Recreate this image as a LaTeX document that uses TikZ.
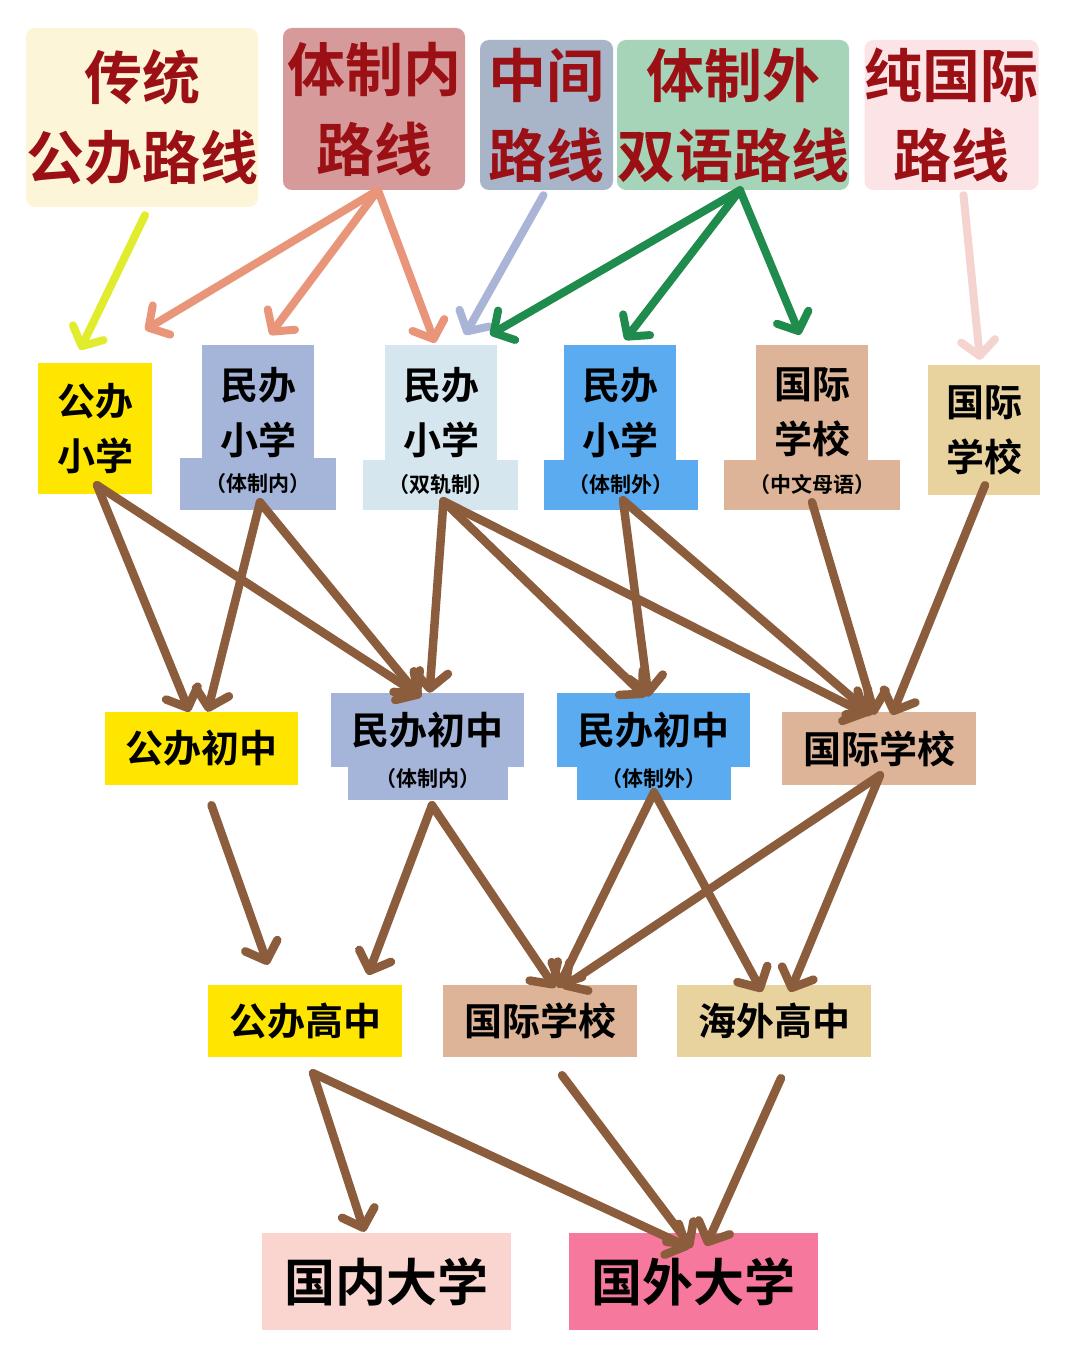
\documentclass[tikz,border=0pt]{standalone}
\usepackage{fontspec}
\newfontfamily\cjk{Noto Sans CJK SC}[BoldFont={Noto Sans CJK SC Bold}]
\usetikzlibrary{arrows.meta}
\definecolor{titlered}{RGB}{155,16,20}
\definecolor{tradbg}{RGB}{253,245,216}
\definecolor{innerbg}{RGB}{214,154,154}
\definecolor{midbg}{RGB}{168,180,200}
\definecolor{outerbg}{RGB}{166,212,184}
\definecolor{intlbg}{RGB}{252,228,230}
\definecolor{yelbg}{RGB}{255,230,0}
\definecolor{bluea}{RGB}{165,180,217}
\definecolor{bluel}{RGB}{213,230,238}
\definecolor{blueb}{RGB}{90,171,240}
\definecolor{tanbg}{RGB}{221,180,151}
\definecolor{khakibg}{RGB}{232,210,158}
\definecolor{homeuni}{RGB}{250,212,207}
\definecolor{awayuni}{RGB}{247,120,157}
\definecolor{yarrow}{RGB}{224,236,44}
\definecolor{sarrow}{RGB}{232,149,122}
\definecolor{garrow}{RGB}{169,180,214}
\definecolor{greenarrow}{RGB}{31,139,76}
\definecolor{parrow}{RGB}{245,211,207}
\definecolor{linkbrown}{RGB}{140,93,60}

\begin{document}
\begin{tikzpicture}[x=1pt, y=-1pt,
  route/.style={rounded corners=9pt, inner sep=0pt, align=center, text=titlered, font=\cjk\bfseries\fontsize{58}{80}\selectfont},
  school/.style={inner sep=0pt, align=center, font=\cjk\bfseries\fontsize{38}{55}\selectfont},
  note/.style={inner sep=0pt, align=center, font=\cjk\bfseries\fontsize{21}{25}\selectfont},
  uni/.style={inner sep=0pt, minimum width=249pt, minimum height=97pt, font=\cjk\bfseries\fontsize{51}{60}\selectfont},
  feed/.style={line width=8pt, line cap=round, -{Straight Barb[length=15pt,width=34pt,round]}},
  link/.style={draw=linkbrown, line width=8.5pt, line cap=round, -{Straight Barb[length=16pt,width=34pt,round]}}]
\fill[white] (0,0) rectangle (1080,1372);
\useasboundingbox (0,0) rectangle (1080,1372);

\node[route, fill=tradbg, minimum width=231pt, minimum height=179pt] (r1) at (142,117.5) {传统\\公办路线};
\node[route, fill=innerbg, minimum width=182pt, minimum height=162pt] (r2) at (374,109) {体制内\\路线};
\node[route, fill=midbg, minimum width=133pt, minimum height=150pt] (r3) at (546.5,115) {中间\\路线};
\node[route, fill=outerbg, minimum width=210pt, minimum height=150pt] (r4) at (733,115) {体制外\\双语路线};
\node[route, fill=intlbg, minimum width=171pt, minimum height=150pt] (r5) at (951.5,115) {纯国际\\路线};

\node[school, fill=yelbg, minimum width=114pt, minimum height=131pt] (p1) at (95,428.5) {公办\\小学};
\node[school, fill=bluea, minimum width=112pt, minimum height=135pt] (p2) at (258,412.5) {民办\\小学};
\node[note, fill=bluea, minimum width=156pt, minimum height=52pt] (p2n) at (258,484) {（体制内）};
\node[school, fill=bluel, minimum width=112pt, minimum height=135pt] (p3) at (441,412.5) {民办\\小学};
\node[note, fill=bluel, minimum width=155pt, minimum height=50pt] (p3n) at (440.5,485) {（双轨制）};
\node[school, fill=blueb, minimum width=112pt, minimum height=135pt] (p4) at (620,412.5) {民办\\小学};
\node[note, fill=blueb, minimum width=154pt, minimum height=50pt] (p4n) at (621,485) {（体制外）};
\node[school, fill=tanbg, minimum width=112pt, minimum height=135pt] (p5) at (812,412.5) {国际\\学校};
\node[note, fill=tanbg, minimum width=176pt, minimum height=50pt] (p5n) at (812,485) {（中文母语）};
\node[school, fill=khakibg, minimum width=112pt, minimum height=130pt] (p6) at (984,430) {国际\\学校};

\node[school, fill=yelbg, minimum width=193pt, minimum height=73pt] (m1) at (201.5,748.5) {公办初中};
\node[note, fill=bluea, minimum width=160pt, minimum height=42pt] (m2n) at (428,779) {（体制内）};
\node[school, fill=bluea, minimum width=193pt, minimum height=74pt] (m2) at (427.5,730) {民办初中};
\node[note, fill=blueb, minimum width=154pt, minimum height=42pt] (m3n) at (654,779) {（体制外）};
\node[school, fill=blueb, minimum width=193pt, minimum height=74pt] (m3) at (653.5,730) {民办初中};
\node[school, fill=tanbg, minimum width=194pt, minimum height=73pt] (m4) at (879,748.5) {国际学校};

\node[school, fill=yelbg, minimum width=194pt, minimum height=72pt] (h1) at (305,1021) {公办高中};
\node[school, fill=tanbg, minimum width=194pt, minimum height=72pt] (h2) at (540,1021) {国际学校};
\node[school, fill=khakibg, minimum width=194pt, minimum height=72pt] (h3) at (774,1021) {海外高中};

\node[uni, fill=homeuni] (u1) at (386.5,1281.5) {国内大学};
\node[uni, fill=awayuni] (u2) at (693,1281.5) {国外大学};

\draw[feed, draw=yarrow] ([xshift=3pt,yshift=-8pt]r1.south) -- ([xshift=-15pt,yshift=13pt]p1.north);
\draw[feed, draw=sarrow] ([xshift=4pt]r2.south) -- ([xshift=-7pt,yshift=33pt]p1.north east);
\draw[feed, draw=sarrow] ([xshift=4pt]r2.south) -- ([xshift=12pt,yshift=10pt]p2.north);
\draw[feed, draw=sarrow] ([xshift=4pt]r2.south) -- ([xshift=-6pt,yshift=2pt]p3.north);
\draw[feed, draw=garrow] ([xshift=-3pt,yshift=-5pt]r3.south) -- ([xshift=24pt,yshift=10pt]p3.north);
\draw[feed, draw=greenarrow] ([xshift=7pt]r4.south) -- ([xshift=-7pt,yshift=10pt]p3.north east);
\draw[feed, draw=greenarrow] ([xshift=7pt]r4.south) -- ([xshift=5pt,yshift=5pt]p4.north);
\draw[feed, draw=greenarrow] ([xshift=7pt]r4.south) -- ([xshift=-12pt,yshift=10pt]p5.north);
\draw[feed, draw=parrow] ([xshift=12pt,yshift=-5pt]r5.south) -- ([xshift=-4pt,yshift=5pt]p6.north);

\draw[link] ([xshift=2pt,yshift=9pt]p1.south) -- ([xshift=-12pt]m1.north);
\draw[link] ([xshift=2pt,yshift=9pt]p1.south) -- ([xshift=-6pt,yshift=-4pt]m2.north);
\draw[link] ([xshift=2pt,yshift=8pt]p2n.south) -- ([xshift=6pt]m1.north);
\draw[link] ([xshift=2pt,yshift=8pt]p2n.south) -- ([xshift=-8pt,yshift=-4pt]m2.north);
\draw[link] ([xshift=3pt,yshift=9pt]p3n.south) -- ([xshift=2pt]m2.north);
\draw[link] ([xshift=3pt,yshift=9pt]p3n.south) -- ([xshift=-8pt,yshift=-4pt]m3.north);
\draw[link] ([xshift=3pt,yshift=9pt]p3n.south) -- ([xshift=-11pt,yshift=-3pt]m4.north);
\draw[link] ([xshift=2pt,yshift=10pt]p4n.south) -- ([xshift=-5pt,yshift=-4pt]m3.north);
\draw[link] ([xshift=2pt,yshift=10pt]p4n.south) -- ([xshift=-7pt,yshift=-3pt]m4.north);
\draw[link] ([yshift=8pt]p5n.south) -- ([xshift=-4pt,yshift=-3pt]m4.north);
\draw[link] ([xshift=1pt,yshift=10pt]p6.south) -- ([xshift=13pt,yshift=-3pt]m4.north);

\draw[link] ([xshift=10pt,yshift=-20pt]m1.south) -- ([xshift=-37pt,yshift=20pt]h1.north);
\draw[link] ([xshift=4pt,yshift=-5pt]m2n.south) -- ([xshift=63pt,yshift=10pt]h1.north);
\draw[link] ([xshift=4pt,yshift=-5pt]m2n.south) -- ([xshift=15pt,yshift=-3pt]h2.north);
\draw[link] ([yshift=8pt]m3n.south) -- ([xshift=18pt,yshift=-3pt]h2.north);
\draw[link] ([yshift=8pt]m3n.south) -- ([xshift=-12pt,yshift=-7pt]h3.north);
\draw[link] ([xshift=1pt,yshift=10pt]m4.south) -- ([xshift=22pt,yshift=-3pt]h2.north);
\draw[link] ([xshift=1pt,yshift=10pt]m4.south) -- ([xshift=16pt,yshift=-7pt]h3.north);

\draw[link] ([xshift=8pt,yshift=-16pt]h1.south) -- ([xshift=-22pt,yshift=1pt]u1.north);
\draw[link] ([xshift=8pt,yshift=-16pt]h1.south) -- ([xshift=-3pt,yshift=-15pt]u2.north);
\draw[link] ([xshift=22pt,yshift=-18pt]h2.south) -- ([xshift=-1pt,yshift=-15pt]u2.north);
\draw[link] ([xshift=7pt,yshift=-21pt]h3.south) -- ([xshift=13pt,yshift=-13pt]u2.north);
\end{tikzpicture}
\end{document}
